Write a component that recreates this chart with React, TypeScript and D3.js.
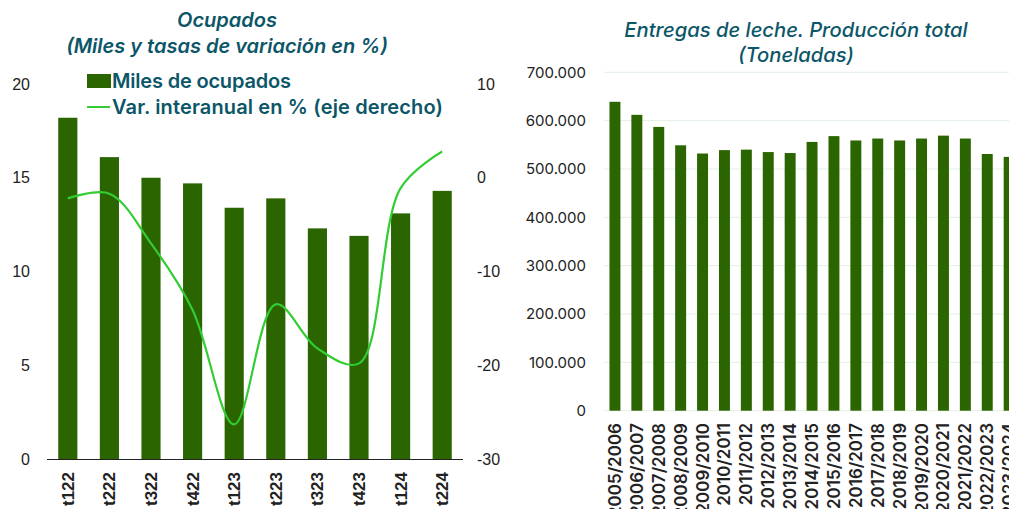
import * as d3 from 'd3'
import React from 'react'

// Left chart: ocupados
const quarters = ['t122', 't222', 't322', 't422', 't123', 't223', 't323', 't423', 't124', 't224']
const ocupados = [18.2, 16.1, 15.0, 14.7, 13.4, 13.9, 12.3, 11.9, 13.1, 14.3]
const varInteranual = [-2.2, -1.7, -7.0, -14.1, -26.3, -13.5, -18.2, -19.8, -1.1, 2.8]
const leftTicks = [0, 5, 10, 15, 20]
const rightTicks = [-30, -20, -10, 0, 10]

// Right chart: entregas de leche
const campaigns = [
    '2005/2006', '2006/2007', '2007/2008', '2008/2009', '2009/2010', '2010/2011',
    '2011/2012', '2012/2013', '2013/2014', '2014/2015', '2015/2016', '2016/2017',
    '2017/2018', '2018/2019', '2019/2020', '2020/2021', '2021/2022', '2022/2023', '2023/2024'
]
const toneladas = [
    639000, 612000, 587000, 549000, 532000, 539000, 540000, 535000, 533000, 556000,
    568000, 559000, 563000, 559000, 563000, 569000, 563000, 531000, 525000
]
const milkTicks = [0, 100000, 200000, 300000, 400000, 500000, 600000, 700000]

const BAR = '#2b6500'
const LINE = '#33cc33'
const TITLE = '#0c5668'

const App = () => {
    // Left scales
    const x1 = d3.scaleBand().domain(quarters).range([47, 463]).paddingInner(0.54).paddingOuter(0.27)
    const y1 = d3.scaleLinear().domain([0, 20]).range([459, 84])
    const y1r = d3.scaleLinear().domain([-30, 10]).range([459, 84])
    const line = d3.line<number>()
        .x((_, i) => x1(quarters[i])! + x1.bandwidth() / 2)
        .y((d) => y1r(d))
        .curve(d3.curveCatmullRom.alpha(0.5))

    // Right scales
    const x2 = d3.scaleBand().domain(campaigns).range([604, 604 + 21.9 * campaigns.length]).paddingInner(0.5).paddingOuter(0.25)
    const y2 = d3.scaleLinear().domain([0, 700000]).range([410.7, 72.3])
    const fmt = (v: number) => d3.format(',')(v).replace(/,/g, '.')

    return (
        <svg width={1009} height={509} style={{ position: 'absolute', left: 0, top: 0 }}>
            <rect width={1009} height={509} fill="#fff" />

            {/* Left chart titles */}
            <g fill={TITLE} fontFamily="Inter, sans-serif" fontStyle="italic" fontWeight={600} fontSize={20} textAnchor="middle">
                <text x={227} y={27}>Ocupados</text>
                <text x={227} y={53}>(Miles y tasas de variación en %)</text>
            </g>

            {/* Left axis labels */}
            <g fontFamily="Liberation Sans, Arial, sans-serif" fontSize={16} fill="#222">
                {leftTicks.map((t) => (
                    <text key={'l' + t} x={30} y={y1(t)} dy="0.35em" textAnchor="end">{t}</text>
                ))}
                {rightTicks.map((t) => (
                    <text key={'r' + t} x={477} y={y1r(t)} dy="0.35em" textAnchor="start">{t}</text>
                ))}
            </g>

            {/* Bars */}
            {quarters.map((q, i) => (
                <rect key={q} x={x1(q)} y={y1(ocupados[i])} width={x1.bandwidth()} height={y1(0) - y1(ocupados[i])} fill={BAR} />
            ))}
            <line x1={47} x2={463} y1={459.5} y2={459.5} stroke="#222" strokeWidth={1} />

            {/* Line */}
            <path d={line(varInteranual) || ''} fill="none" stroke={LINE} strokeWidth={2.2} />

            {/* X labels */}
            <g fontFamily="Liberation Sans, Arial, sans-serif" fontSize={17} fontWeight="bold" fill="#222">
                {quarters.map((q) => {
                    const cx = x1(q)! + x1.bandwidth() / 2
                    return (
                        <text key={q} transform={`translate(${cx},472) rotate(-90)`} dy="0.35em" textAnchor="end">{q}</text>
                    )
                })}
            </g>

            {/* Legend */}
            <rect x={87} y={74} width={24} height={14} fill={BAR} />
            <line x1={87} x2={110} y1={107} y2={107} stroke={LINE} strokeWidth={2} />
            <g fontFamily="Inter, sans-serif" fontWeight={600} fontSize={20} fill={TITLE}>
                <text x={112} y={88} textLength={179}>Miles de ocupados</text>
                <text x={112} y={114} textLength={331}>Var. interanual en % (eje derecho)</text>
            </g>

            {/* Right chart title */}
            <g fill={TITLE} fontFamily="Inter, sans-serif" fontStyle="italic" fontWeight={500} fontSize={20.2} textAnchor="middle">
                <text x={796} y={37}>Entregas de leche. Producción total</text>
                <text x={796} y={62}>(Toneladas)</text>
            </g>

            {/* Right gridlines + ticks */}
            {milkTicks.map((t) => (
                <g key={t}>
                    <line x1={604} x2={1009} y1={y2(t)} y2={y2(t)} stroke="#e3efe3" strokeWidth={1} />
                    <text x={586} y={y2(t)} dy="0.35em" textAnchor="end" fontFamily="Inter, sans-serif" fontSize={15} fill="#222">{fmt(t)}</text>
                </g>
            ))}

            {/* Right bars */}
            {campaigns.map((c, i) => (
                <rect key={c} x={x2(c)} y={y2(toneladas[i])} width={x2.bandwidth()} height={y2(0) - y2(toneladas[i])} fill={BAR} />
            ))}

            {/* Right x labels */}
            <g fontFamily="Inter, sans-serif" fontSize={17} fontWeight={600} fill="#222">
                {campaigns.map((c) => {
                    const cx = x2(c)! + x2.bandwidth() / 2
                    return (
                        <text key={c} transform={`translate(${cx},423) rotate(-90)`} dy="0.35em" textAnchor="end">{c}</text>
                    )
                })}
            </g>
        </svg>
    )
}

export default App
